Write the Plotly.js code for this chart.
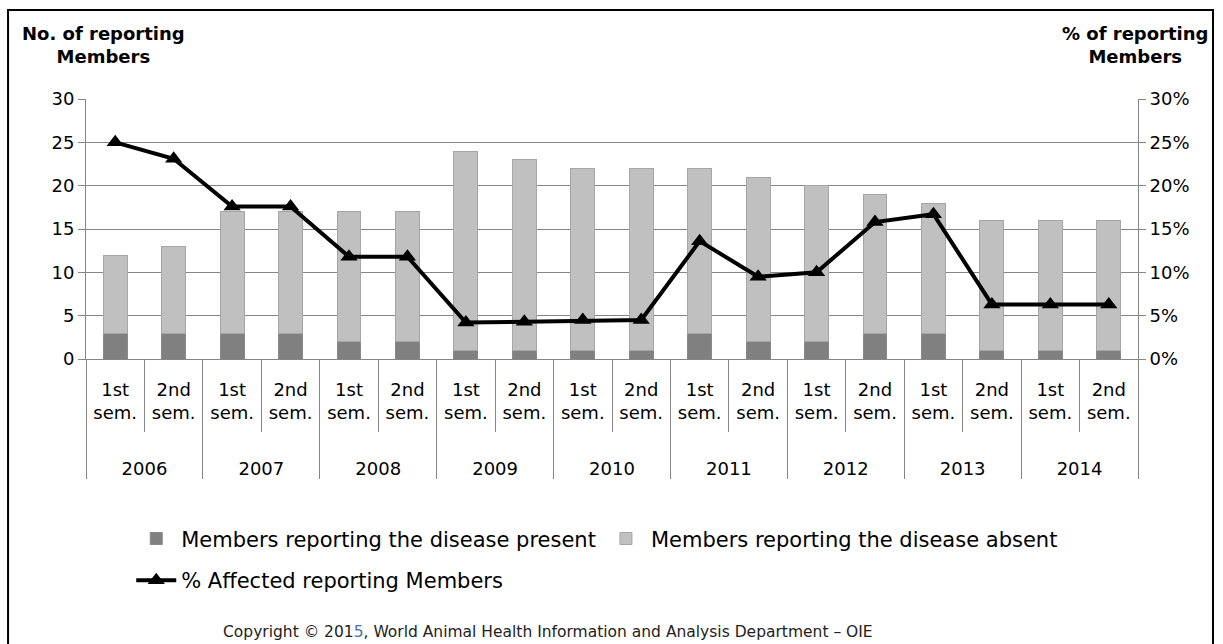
<!DOCTYPE html>
<html>
<head>
<meta charset="utf-8">
<script src="https://cdn.plot.ly/plotly-3.0.1.min.js"></script>
<style>html,body{margin:0;padding:0;background:#fff;}#chart{width:1223px;height:644px;}</style>
</head>
<body>
<div id="chart"></div>
<script>
var years = ['<br>2006','<br>2006','<br>2007','<br>2007','<br>2008','<br>2008','<br>2009','<br>2009','<br>2010','<br>2010','<br>2011','<br>2011','<br>2012','<br>2012','<br>2013','<br>2013','<br>2014','<br>2014'];
var semesters = ['1st<br>sem.<br> ','2nd<br>sem.<br> ','1st<br>sem.<br> ','2nd<br>sem.<br> ','1st<br>sem.<br> ','2nd<br>sem.<br> ','1st<br>sem.<br> ','2nd<br>sem.<br> ','1st<br>sem.<br> ','2nd<br>sem.<br> ','1st<br>sem.<br> ','2nd<br>sem.<br> ','1st<br>sem.<br> ','2nd<br>sem.<br> ','1st<br>sem.<br> ','2nd<br>sem.<br> ','1st<br>sem.<br> ','2nd<br>sem.<br> '];
var present = [3,3,3,3,2,2,1,1,1,1,3,2,2,3,3,1,1,1];
var absent  = [9,10,14,14,15,15,23,22,21,21,19,19,18,16,15,15,15,15];
var pctAffected = [25.0,23.1,17.6,17.6,11.8,11.8,4.2,4.3,4.5,4.5,13.6,9.5,10.0,15.8,16.7,6.3,6.3,6.3];

var FONT = '"DejaVu Sans", sans-serif';
var x = [years, semesters];

var traces = [
  {type:'bar', x:x, y:present, name:'Members reporting the disease present',
   marker:{color:'#808080', line:{color:'#8a8a8a', width:1}}, legend:'legend'},
  {type:'bar', x:x, y:absent, name:'Members reporting the disease absent',
   marker:{color:'#c0c0c0', line:{color:'#a6a6a6', width:1}}, legend:'legend'},
  {type:'scatter', mode:'lines+markers', x:x, y:pctAffected, yaxis:'y2',
   name:'% Affected reporting Members', legend:'legend2',
   line:{color:'#000', width:4}, marker:{symbol:'triangle-up', size:15, color:'#000'}}
];

var legendFont = {family:FONT, size:21, color:'#000'};
var layout = {
  width:1223, height:644,
  margin:{l:86, r:85, t:99, b:285},
  paper_bgcolor:'#fff', plot_bgcolor:'#fff',
  font:{family:FONT, size:18, color:'#000'},
  barmode:'stack', bargap:0.59,
  showlegend:true,
  legend:{orientation:'h', x:0.043, xanchor:'left', y:-0.613, yanchor:'top',
          font:legendFont, itemwidth:40, traceorder:'normal', bgcolor:'rgba(0,0,0,0)'},
  legend2:{orientation:'h', x:0.043, xanchor:'left', y:-0.773, yanchor:'top',
          font:legendFont, itemwidth:40, bgcolor:'rgba(0,0,0,0)'},
  xaxis:{type:'multicategory', range:[-0.5,17.5], showline:true, linecolor:'#868686', linewidth:1,
         ticks:'outside', ticklen:72, tickcolor:'#868686', tickson:'boundaries',
         ticklabelstandoff:14,
         showdividers:true, dividercolor:'#868686', dividerwidth:1,
         tickfont:{family:FONT, size:18, color:'#000'}, showgrid:false, zeroline:false},
  yaxis:{range:[0,30], dtick:5, showgrid:true, gridcolor:'#868686', gridwidth:1,
         showline:true, linecolor:'#868686', ticks:'outside', ticklen:7, tickcolor:'#868686',
         zeroline:false, tickfont:{family:FONT, size:18, color:'#000'}},
  yaxis2:{overlaying:'y', side:'right', range:[0,30], dtick:5, ticksuffix:'%',
          showgrid:false, showline:true, linecolor:'#868686', ticks:'outside', ticklen:7,
          tickcolor:'#868686', zeroline:false, tickfont:{family:FONT, size:18, color:'#000'}},
  shapes:[
    {type:'rect', xref:'paper', yref:'paper', x0:-0.0741, x1:1.0713, y0:-1.12, y1:1.342,
     line:{color:'#000', width:2}, fillcolor:'rgba(0,0,0,0)', layer:'above'}
  ],
  annotations:[
    {xref:'paper', yref:'paper', x:0.017, y:1.208, xanchor:'center', yanchor:'middle', showarrow:false,
     text:'<b>No. of reporting<br>Members</b>', font:{family:FONT, size:18, color:'#000'}},
    {xref:'paper', yref:'paper', x:0.997, y:1.208, xanchor:'center', yanchor:'middle', showarrow:false,
     text:'<b>% of reporting<br>Members</b>', font:{family:FONT, size:18, color:'#000'}},
    {xref:'paper', yref:'paper', x:0.439, y:-1.05, xanchor:'center', yanchor:'middle', showarrow:false,
     text:'Copyright © 201<span style="color:#4f6fb0">5</span>, World Animal Health Information and Analysis Department – OIE',
     font:{family:FONT, size:15.5, color:'#222'}}
  ]
};

Plotly.newPlot('chart', traces, layout, {displayModeBar:false, staticPlot:true});
</script>
</body>
</html>
